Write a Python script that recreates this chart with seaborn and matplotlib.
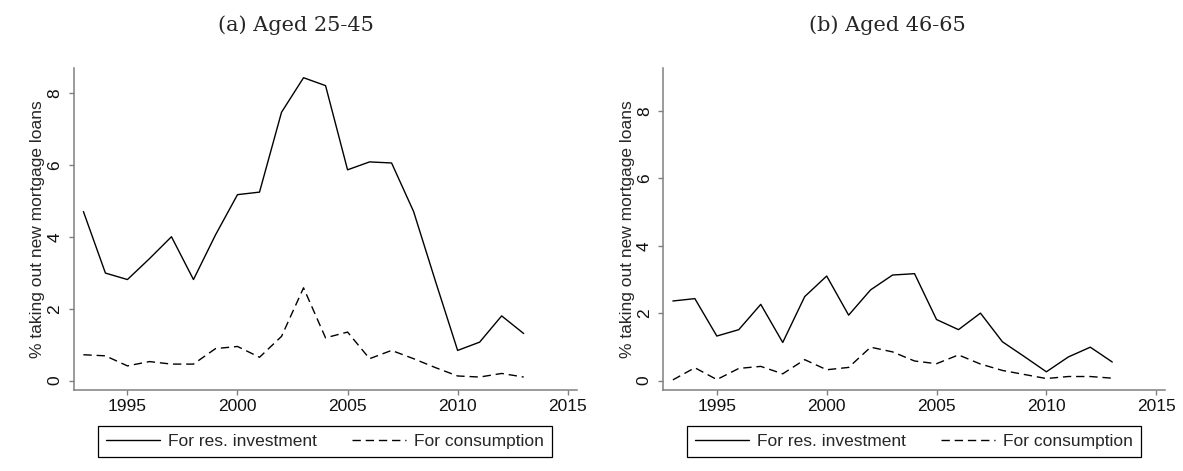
import matplotlib
matplotlib.use("Agg")
import matplotlib.pyplot as plt
import seaborn as sns
import pandas as pd

years = list(range(1993, 2014))

# (a) aged 25-45
young_invest = [4.70, 2.99, 2.81, 3.39, 4.00, 2.81, 4.05, 5.17, 5.24, 7.46, 8.42,
                8.20, 5.86, 6.08, 6.05, 4.70, 2.75, 0.84, 1.07, 1.80, 1.31]
young_cons = [0.72, 0.69, 0.41, 0.53, 0.46, 0.46, 0.89, 0.95, 0.65, 1.23, 2.58,
              1.19, 1.35, 0.61, 0.84, 0.61, 0.36, 0.13, 0.10, 0.20, 0.10]

# (b) aged 46-65
old_invest = [2.36, 2.43, 1.32, 1.51, 2.26, 1.13, 2.49, 3.10, 1.94, 2.69, 3.13,
              3.17, 1.81, 1.51, 2.00, 1.15, 0.71, 0.26, 0.70, 0.99, 0.55]
old_cons = [0.02, 0.38, 0.03, 0.36, 0.42, 0.20, 0.62, 0.32, 0.39, 0.99, 0.85,
            0.58, 0.50, 0.76, 0.49, 0.30, 0.18, 0.06, 0.12, 0.12, 0.07]

series_names = ["For res. investment", "For consumption"]
panel_titles = ["(a) Aged 25-45", "(b) Aged 46-65"]
ylabel = "% taking out new mortgage loans"
xticks = [1995, 2000, 2005, 2010, 2015]
yticks = [0, 2, 4, 6, 8]

sns.set_style("white")
plt.rcParams["font.family"] = ["Liberation Sans", "DejaVu Sans"]

def long_df(invest, cons):
    return pd.DataFrame({
        "year": years * 2,
        "value": invest + cons,
        "series": [series_names[0]] * len(years) + [series_names[1]] * len(years),
    })

fig = plt.figure(figsize=(11.83, 4.71), dpi=100)
W, H = 1183, 471
axes = [fig.add_axes([73.5 / W, 1 - 390 / H, 503 / W, 322 / H]),
        fig.add_axes([663 / W, 1 - 390 / H, 502 / W, 322 / H])]
ylims = [(-0.26, 8.69), (-0.28, 9.27)]
spine_col = "#808080"

for ax, (inv, con), ylim in zip(axes, [(young_invest, young_cons), (old_invest, old_cons)], ylims):
    df = long_df(inv, con)
    sns.lineplot(data=df, x="year", y="value", style="series", color="black",
                 dashes={series_names[0]: "", series_names[1]: (6, 3.5)},
                 linewidth=1.0, ax=ax)
    ax.set_xlim(1992.55, 2015.4)
    ax.set_ylim(*ylim)
    ax.set_xticks(xticks)
    ax.set_yticks(yticks)
    ax.set_xlabel("")
    ax.set_ylabel(ylabel, fontsize=12.5)
    ax.yaxis.set_label_coords(-0.056, 0.5)
    for s in ["top", "right"]:
        ax.spines[s].set_visible(False)
    for s in ["left", "bottom"]:
        ax.spines[s].set_color(spine_col)
        ax.spines[s].set_linewidth(1.1)
    ax.tick_params(axis="both", which="major", length=3.6, width=1.0, color=spine_col,
                   labelsize=12.5, labelcolor="#111111", bottom=True, left=True)
    ax.tick_params(axis="x", pad=3)
    ax.tick_params(axis="y", pad=4.5)
    for lab in ax.get_yticklabels():
        lab.set_rotation(90)
        lab.set_va("center")
    handles, labels = ax.get_legend_handles_labels()
    leg = ax.legend(handles, labels, loc="upper center", bbox_to_anchor=(0.5, -0.112),
                    ncol=2, fontsize=12.5, frameon=True, fancybox=False, framealpha=1,
                    edgecolor="black", borderaxespad=0, handlelength=3.1,
                    handletextpad=0.5, columnspacing=2.0, borderpad=0.45)
    leg.get_frame().set_linewidth(0.9)

fig.text(295.5 / W, 1 - 31 / H, panel_titles[0], ha="center", va="baseline",
         family="DejaVu Serif", fontsize=15)
fig.text(887 / W, 1 - 31 / H, panel_titles[1], ha="center", va="baseline",
         family="DejaVu Serif", fontsize=15)

fig.savefig("out.png", dpi=100)
